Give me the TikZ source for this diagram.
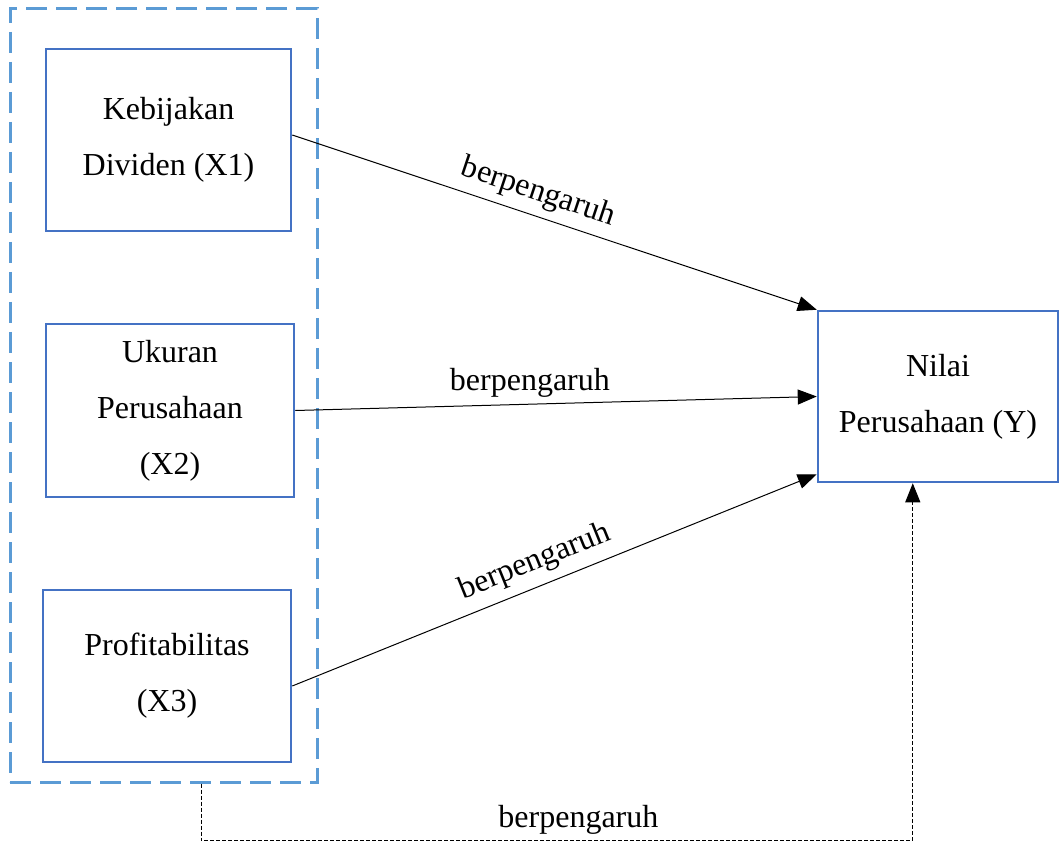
\documentclass[tikz,border=0pt]{standalone}
\usepackage{fontspec}
\setmainfont{Liberation Serif}
\usetikzlibrary{arrows.meta,calc}
\definecolor{boxblue}{HTML}{4472C4}
\definecolor{grpblue}{HTML}{5B9BD5}
\begin{document}
\begin{tikzpicture}[x=1pt,y=-1pt,
  varbox/.style={draw=boxblue,line width=2.5pt,fill=white,align=center,
    font=\fontsize{32}{56}\selectfont,inner sep=0pt},
  grpbox/.style={draw=grpblue,line width=3pt,dash pattern=on 21pt off 9pt},
  link/.style={line width=1pt,-{Triangle[length=19pt,width=15pt]}},
  dlink/.style={line width=1pt,dash pattern=on 4pt off 2pt,-{Triangle[length=19pt,width=15pt]}},
  lbl/.style={font=\fontsize{32}{36}\selectfont,inner sep=2pt}]
\useasboundingbox (0,0) rectangle (1060,842);
\node[grpbox,minimum width=307pt,minimum height=773pt] (grp) at (163.5,395.5) {};
\node[varbox,minimum width=245pt,minimum height=182pt] (x1) at (168.5,140) {Kebijakan\\Dividen (X1)};
\node[varbox,minimum width=248pt,minimum height=173pt] (x2) at (170,410.5) {Ukuran\\Perusahaan\\(X2)};
\node[varbox,minimum width=248pt,minimum height=172pt] (x3) at (167,676) {Profitabilitas\\(X3)};
\node[varbox,minimum width=240pt,minimum height=171pt] (y) at (938,396.5) {Nilai\\Perusahaan (Y)};
\draw[link] ([yshift=5pt]x1.east) -- node[lbl,sloped,above=6pt,pos=0.455]{berpengaruh} (y.north west);
\draw[link] (x2.east) -- node[lbl,above=4pt,pos=0.45]{berpengaruh} (y.west);
\draw[link] ([yshift=-10pt]x3.east) -- node[lbl,sloped,above=7pt,pos=0.48]{berpengaruh} ([yshift=9pt]y.south west);
\coordinate (s) at ($(grp.south west)!0.622!(grp.south east)$);
\coordinate (e) at ($(y.south west)!0.396!(y.south east)$);
\draw[dlink] (s) -- ++(0,57) -| node[lbl,above=4pt,pos=0.265]{berpengaruh} (e);
\end{tikzpicture}
\end{document}
